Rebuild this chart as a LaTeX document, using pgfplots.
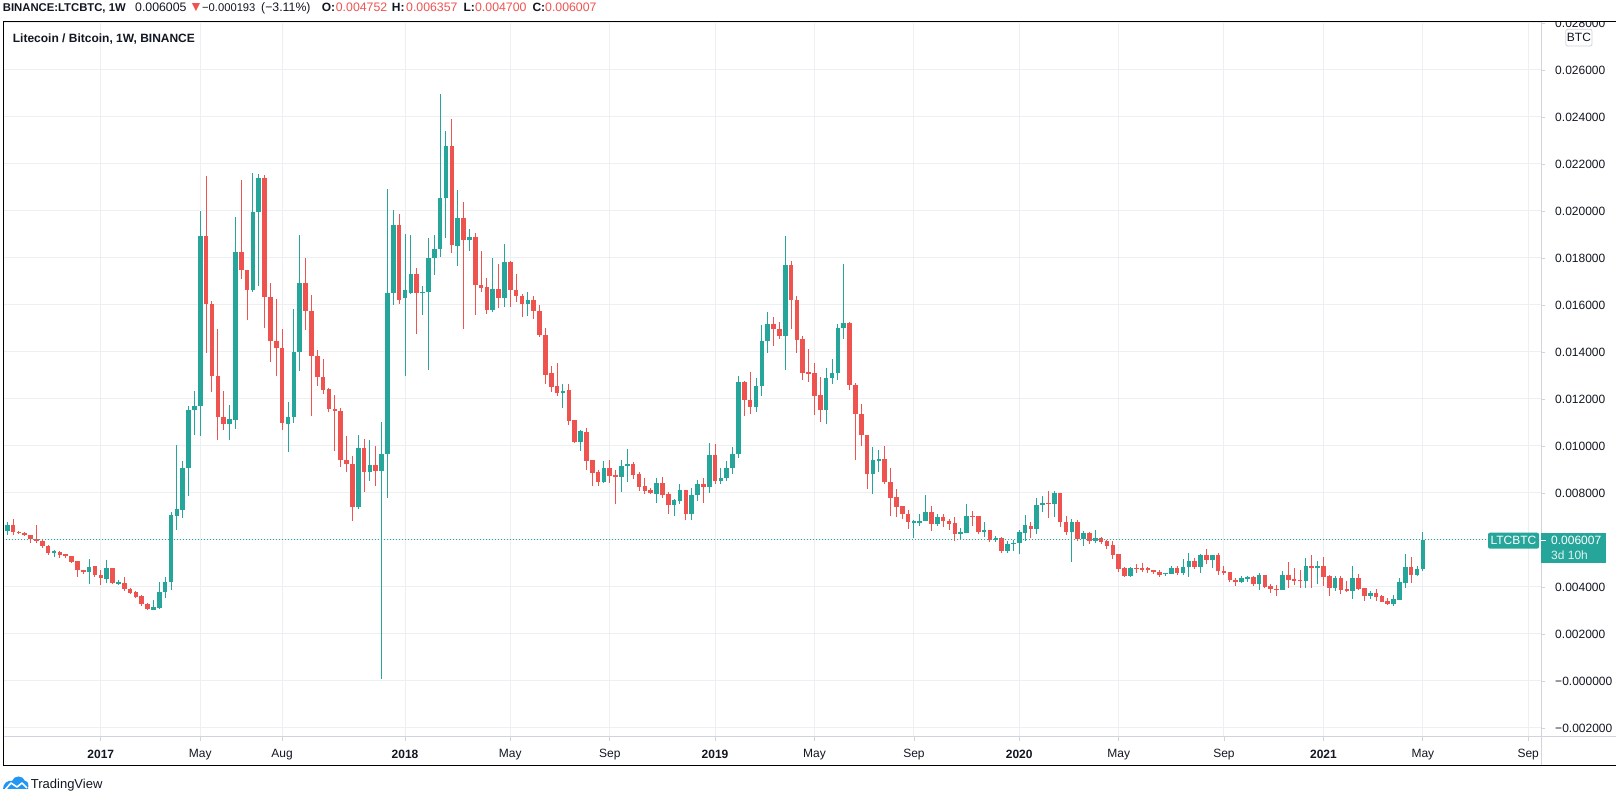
\documentclass[border=0pt]{standalone}
\usepackage{pgfplots}
\pgfplotsset{compat=1.18}
\usepackage{pgfplotstable}
\usepackage{fontspec}
\setmainfont{Liberation Sans}
\definecolor{tvgreen}{RGB}{38,166,154}
\definecolor{tvred}{RGB}{239,83,80}
\definecolor{tvgrid}{RGB}{238,239,242}
\definecolor{tvtext}{RGB}{19,23,34}
\definecolor{tvline}{RGB}{209,212,220}
\definecolor{tvblue}{RGB}{33,150,243}
% weekly candles, LTC/BTC, values in units of 0.001 BTC; i = week index (0 = 12 Sep 2016)
\pgfplotstableread{
i o h l c
0 6.37 6.75 6.23 6.65
1 6.65 6.90 6.23 6.33
2 6.36 6.40 6.25 6.30
3 6.31 6.32 6.15 6.21
4 6.22 6.23 5.87 6.04
5 6.06 6.65 5.87 5.95
6 5.97 6.01 5.65 5.73
7 5.76 5.80 5.38 5.45
8 5.45 5.59 5.28 5.52
9 5.50 5.55 5.23 5.35
10 5.40 5.41 5.23 5.32
11 5.33 5.34 5.02 5.05
12 5.09 5.12 4.41 4.71
13 4.74 4.74 4.54 4.62
14 4.62 5.20 4.11 4.85
15 4.88 4.91 4.43 4.50
16 4.53 4.74 4.07 4.37
17 4.36 5.16 4.17 4.82
18 4.82 4.82 4.11 4.16
19 4.17 4.28 4.07 4.21
20 4.18 4.42 3.85 3.91
21 3.93 3.96 3.72 3.74
22 3.77 3.81 3.54 3.57
23 3.60 3.65 3.18 3.28
24 3.29 3.32 3.01 3.06
25 3.04 3.46 3.01 3.16
26 3.12 4.21 3.07 3.80
27 3.77 4.42 3.54 4.21
28 4.20 7.21 3.86 7.08
29 7.04 10.06 6.44 7.32
30 7.29 9.35 6.92 9.08
31 9.05 11.72 7.89 11.55
32 11.52 12.35 10.48 11.72
33 11.69 19.99 10.41 18.92
34 18.92 21.47 13.96 16.03
35 16.06 16.16 12.28 12.96
36 12.99 14.98 10.24 11.23
37 11.23 12.35 10.67 10.92
38 10.92 11.76 10.24 11.15
39 11.12 19.76 10.74 18.27
40 18.27 21.33 17.12 17.48
41 17.50 17.50 15.38 16.62
42 16.62 21.62 16.54 19.97
43 19.94 21.59 16.79 21.42
44 21.42 21.55 15.02 16.33
45 16.35 16.95 13.56 14.45
46 14.48 16.24 12.99 14.16
47 14.18 14.98 10.70 10.96
48 10.92 11.89 9.73 11.25
49 11.22 15.84 10.98 14.00
50 13.99 18.99 13.18 16.95
51 16.95 18.01 14.95 15.73
52 15.76 16.43 11.26 13.82
53 13.84 14.07 12.54 12.92
54 12.95 13.72 12.20 12.40
55 12.43 12.47 11.45 11.56
56 11.59 12.18 9.77 11.48
57 11.50 11.62 9.09 9.39
58 9.42 10.44 8.88 9.23
59 9.23 9.59 6.79 7.39
60 7.39 10.48 7.32 9.91
61 9.91 10.30 8.03 8.88
62 8.88 10.27 8.50 9.21
63 9.21 10.01 8.28 8.92
64 8.92 11.01 0.10 9.67
65 9.64 20.94 7.79 16.51
66 16.51 20.04 16.00 19.40
67 19.40 19.88 16.05 16.20
68 16.28 19.04 12.96 16.65
69 16.51 18.99 16.48 17.33
70 17.33 17.57 14.78 16.50
71 16.50 16.82 15.59 16.57
72 16.54 18.87 13.22 18.01
73 17.99 18.99 17.26 18.40
74 18.37 24.99 18.03 20.57
75 20.54 23.42 18.84 22.78
76 22.78 23.93 18.23 18.54
77 18.50 20.91 17.65 19.72
78 19.72 20.40 14.98 18.75
79 18.75 19.25 18.31 18.91
80 18.91 19.06 15.59 16.84
81 16.87 18.31 16.57 16.74
82 16.78 17.16 15.63 15.80
83 15.80 18.01 15.69 16.70
84 16.70 17.76 15.86 16.28
85 16.28 18.61 15.93 17.84
86 17.84 17.89 15.93 16.62
87 16.65 17.33 16.11 16.37
88 16.40 16.45 15.48 16.03
89 16.03 16.54 15.52 16.23
90 16.23 16.40 15.40 15.73
91 15.76 16.01 14.65 14.71
92 14.72 15.01 12.64 13.04
93 13.11 13.40 12.31 12.52
94 12.55 13.53 12.13 12.24
95 12.24 12.64 11.63 12.34
96 12.38 12.64 10.89 11.08
97 11.11 11.11 10.13 10.17
98 10.17 10.68 9.79 10.64
99 10.60 10.77 8.98 9.36
100 9.40 9.40 8.30 8.87
101 8.89 8.98 8.30 8.47
102 8.47 9.36 8.44 9.06
103 9.06 9.40 8.44 8.72
104 8.77 8.98 7.53 8.68
105 8.68 9.40 8.04 9.15
106 9.14 9.87 8.47 9.25
107 9.25 9.32 8.60 8.78
108 8.82 8.91 8.09 8.26
109 8.30 8.64 7.96 8.09
110 8.13 8.21 7.96 8.00
111 7.97 8.64 7.57 8.43
112 8.43 8.68 7.79 7.93
113 7.96 8.04 7.11 7.50
114 7.50 7.74 7.03 7.70
115 7.67 8.38 7.53 8.13
116 8.13 8.13 6.87 7.12
117 7.12 8.21 6.87 7.93
118 7.90 8.57 7.65 8.40
119 8.40 8.65 7.56 8.24
120 8.24 10.13 8.00 9.63
121 9.63 10.10 8.40 8.50
122 8.50 9.08 8.37 8.65
123 8.62 9.38 8.50 9.08
124 9.05 9.97 8.79 9.67
125 9.65 12.99 9.50 12.74
126 12.74 12.78 11.26 11.94
127 11.97 13.16 11.35 11.65
128 11.65 12.91 11.46 12.57
129 12.54 15.16 12.11 14.48
130 14.45 15.72 13.94 15.21
131 15.21 15.50 14.27 14.96
132 14.99 15.29 14.57 14.70
133 14.70 18.95 13.25 17.72
134 17.72 17.89 14.99 16.20
135 16.23 16.40 13.97 14.52
136 14.57 14.70 12.82 13.12
137 13.16 14.14 12.74 13.08
138 13.12 13.55 11.33 12.14
139 12.18 12.95 11.04 11.55
140 11.55 13.33 10.95 12.91
141 12.88 13.72 12.65 13.12
142 13.09 15.21 12.79 15.04
143 15.01 17.76 14.54 15.25
144 15.25 15.29 12.37 12.58
145 12.61 12.68 9.39 11.35
146 11.38 11.80 9.99 10.45
147 10.48 10.48 8.16 8.79
148 8.79 9.97 7.94 9.42
149 9.39 9.84 8.88 9.46
150 9.46 10.01 8.37 8.45
151 8.48 9.08 7.01 7.77
152 7.82 8.16 6.96 7.39
153 7.43 7.43 6.88 7.09
154 7.12 7.26 6.45 6.75
155 6.74 6.86 6.07 6.79
156 6.74 7.12 6.58 6.82
157 6.79 7.90 6.79 7.21
158 7.21 7.43 6.37 6.67
159 6.67 7.12 6.58 6.96
160 6.96 7.12 6.54 6.79
161 6.82 6.88 6.41 6.67
162 6.71 6.96 5.96 6.24
163 6.24 6.52 6.01 6.35
164 6.28 7.55 6.28 7.04
165 7.04 7.22 6.58 6.96
166 7.00 7.00 6.24 6.33
167 6.33 6.78 6.14 6.44
168 6.44 6.44 5.93 6.01
169 6.00 6.17 5.93 6.09
170 6.09 6.14 5.46 5.55
171 5.55 5.97 5.46 5.84
172 5.82 6.01 5.55 5.89
173 5.86 6.44 5.42 6.33
174 6.28 7.08 5.97 6.65
175 6.61 6.78 6.10 6.48
176 6.48 7.80 6.27 7.50
177 7.48 7.89 7.21 7.59
178 7.59 8.10 6.95 7.52
179 7.52 8.10 6.99 8.01
180 8.01 8.01 6.57 6.75
181 6.78 7.04 6.23 6.33
182 6.33 6.91 5.08 6.78
183 6.78 6.87 5.97 6.06
184 6.06 6.37 5.76 6.31
185 6.31 6.35 5.82 5.94
186 5.94 6.44 5.89 6.09
187 6.09 6.14 5.82 5.90
188 5.94 6.01 5.63 5.76
189 5.80 5.97 5.21 5.38
190 5.42 5.42 4.65 4.78
191 4.82 4.87 4.44 4.48
192 4.48 4.87 4.44 4.82
193 4.82 4.99 4.61 4.78
194 4.82 5.01 4.65 4.75
195 4.79 4.87 4.58 4.71
196 4.74 4.74 4.55 4.62
197 4.65 4.74 4.41 4.50
198 4.54 4.61 4.45 4.61
199 4.57 4.91 4.54 4.82
200 4.82 4.91 4.50 4.61
201 4.61 5.21 4.50 4.87
202 4.84 5.46 4.44 5.12
203 5.12 5.25 4.75 4.84
204 4.84 5.42 4.58 5.38
205 5.38 5.63 4.99 5.16
206 5.16 5.38 4.79 5.38
207 5.38 5.46 4.50 4.67
208 4.70 4.91 4.52 4.61
209 4.65 4.65 4.20 4.28
210 4.31 4.40 4.03 4.23
211 4.23 4.48 4.16 4.40
212 4.35 4.48 4.23 4.44
213 4.44 4.48 4.03 4.11
214 4.11 4.61 3.86 4.52
215 4.52 4.52 3.94 3.99
216 4.06 4.14 3.73 3.90
217 3.93 4.10 3.60 3.89
218 3.89 4.70 3.89 4.52
219 4.52 5.08 3.94 4.31
220 4.35 4.82 4.10 4.28
221 4.31 4.74 3.94 4.28
222 4.27 5.22 3.97 4.89
223 4.89 5.36 3.97 4.82
224 4.82 5.12 4.11 4.89
225 4.89 5.28 4.04 4.44
226 4.47 4.51 3.62 3.97
227 3.97 4.47 3.83 4.37
228 4.37 4.47 3.70 3.87
229 3.91 4.27 3.80 3.86
230 3.84 4.89 3.49 4.37
231 4.37 4.55 3.87 3.90
232 3.97 3.97 3.42 3.63
233 3.63 3.83 3.48 3.74
234 3.74 3.91 3.42 3.56
235 3.62 3.66 3.36 3.38
236 3.39 3.52 3.23 3.26
237 3.26 3.66 3.21 3.49
238 3.45 4.37 3.45 4.21
239 4.18 5.40 3.97 4.85
240 4.85 5.28 4.16 4.51
241 4.51 4.89 4.47 4.75
242 4.752 6.357 4.700 6.007
}\candles

\begin{document}
\begin{tikzpicture}[x=1pt,y=1pt]
\useasboundingbox (0,0) rectangle (1616,799);
\fill[white] (0,0) rectangle (1616,799);
\begin{axis}[
  at={(3.3pt,62pt)}, anchor=south west,
  scale only axis, width=1537.7pt, height=715.3pt,
  xmin=-0.67, xmax=262.2, ymin=-2.383, ymax=28.055,
  axis line style={draw=none},
  unbounded coords=discard,
  grid=major,
  major grid style={draw=tvgrid, line width=1pt},
  tick align=outside,
  major tick length=4pt,
  tick style={draw=tvline, line width=0.8pt},
  xtick pos=bottom,
  ytick pos=right, yticklabel pos=right,
  xtick={16,33,47,68,86,103,121,138,155,173,190,208,225,242,260},
  xticklabels={\textbf{2017},May,Aug,\textbf{2018},May,Sep,\textbf{2019},May,Sep,\textbf{2020},May,Sep,\textbf{2021},May,Sep},
  ytick={-2,0,2,4,6,8,10,12,14,16,18,20,22,24,26,28},
  yticklabels={−0.002000,−0.000000,0.002000,0.004000,{},0.008000,0.010000,0.012000,0.014000,0.016000,0.018000,0.020000,0.022000,0.024000,0.026000,0.028000},
  xticklabel style={font=\fontsize{12pt}{14pt}\selectfont, text=tvtext, anchor=center, yshift=-13.7pt},
  yticklabel style={font=\fontsize{12pt}{14pt}\selectfont, text=tvtext, anchor=west, inner sep=0pt, xshift=10pt},
  candle/.style={draw=none, mark=none, error bars/y dir=both, error bars/y explicit, error bars/error mark=none},
]
% wicks
\addplot[candle, error bars/error bar style={draw=tvgreen, line width=1pt}]
  table[x=i, y expr={\thisrow{c}>=\thisrow{o} ? (\thisrow{h}+\thisrow{l})/2 : nan},
        y error expr={(\thisrow{h}-\thisrow{l})/2}] {\candles};
\addplot[candle, error bars/error bar style={draw=tvred, line width=1pt}]
  table[x=i, y expr={\thisrow{c}<\thisrow{o} ? (\thisrow{h}+\thisrow{l})/2 : nan},
        y error expr={(\thisrow{h}-\thisrow{l})/2}] {\candles};
% bodies
\addplot[candle, error bars/error bar style={draw=tvgreen, line width=4.6pt}]
  table[x=i, y expr={\thisrow{c}>=\thisrow{o} ? (\thisrow{o}+\thisrow{c})/2 : nan},
        y error expr={max(abs(\thisrow{c}-\thisrow{o})/2,0.022)}] {\candles};
\addplot[candle, error bars/error bar style={draw=tvred, line width=4.6pt}]
  table[x=i, y expr={\thisrow{c}<\thisrow{o} ? (\thisrow{o}+\thisrow{c})/2 : nan},
        y error expr={max(abs(\thisrow{c}-\thisrow{o})/2,0.022)}] {\candles};
% last price line
\addplot[tvgreen, line width=1pt, dash pattern=on 1pt off 2pt] coordinates {(-0.67,6.007) (253.1,6.007)};
\end{axis}
% frame
\fill[white] (1542,777.3) rectangle (1616,799);
\draw[tvline, line width=1pt] (1541,777.3) -- (1541,34);
\draw[tvline, line width=1pt] (3.3,62) -- (1616,62);
\draw[black, line width=0.9pt] (3.3,777.3) -- (1616,777.3);
\draw[black, line width=0.9pt] (3.3,777.3) -- (3.3,34) -- (1616,34);
% header
\begin{scope}[every node/.style={anchor=base west, inner sep=0pt, text=tvtext, font=\fontsize{12.3pt}{14pt}\selectfont}]
\node[font=\fontsize{11.3pt}{14pt}\selectfont\bfseries] at (2.7,787) {BINANCE:LTCBTC, 1W};
\node at (135,787) {0.006005};
\node[text=tvred, font=\fontsize{14pt}{16pt}\selectfont] at (189,787.5) {▼};
\node[font=\fontsize{11.2pt}{14pt}\selectfont] at (202,787) {−0.000193};
\node at (261,787) {(−3.11\%)};
\node[font=\fontsize{12pt}{14pt}\selectfont\bfseries] at (321.7,787) {O:};
\node[text=tvred] at (335.7,787) {0.004752};
\node[font=\fontsize{12pt}{14pt}\selectfont\bfseries] at (391.7,787) {H:};
\node[text=tvred] at (406,787) {0.006357};
\node[font=\fontsize{12pt}{14pt}\selectfont\bfseries] at (463.3,787) {L:};
\node[text=tvred] at (475,787) {0.004700};
\node[font=\fontsize{12pt}{14pt}\selectfont\bfseries] at (532.3,787) {C:};
\node[text=tvred] at (545,787) {0.006007};
\node[font=\fontsize{12pt}{14pt}\selectfont\bfseries] at (12.7,756.4) {Litecoin / Bitcoin, 1W, BINANCE};
\end{scope}
% BTC unit box
\draw[tvline, fill=white, rounded corners=2pt, line width=0.8pt] (1565.7,753) rectangle (1592,769.7);
\node[text=tvtext, font=\fontsize{12pt}{14pt}\selectfont, inner sep=0pt] at (1578.9,761.3) {BTC};
% last price labels
\fill[tvgreen, rounded corners=2pt] (1488,250.3) rectangle (1539,266.3);
\node[text=white, font=\fontsize{12pt}{14pt}\selectfont, inner sep=0pt] at (1513.5,258.3) {LTCBTC};
\fill[tvgreen] (1541,236.3) rectangle (1606,266.3);
\draw[white, line width=0.8pt] (1541,258.7) -- (1545.5,258.7);
\node[anchor=west, text=white, font=\fontsize{12pt}{14pt}\selectfont, inner sep=0pt] at (1551,258.7) {0.006007};
\node[anchor=west, text=white!85!tvgreen, font=\fontsize{12pt}{14pt}\selectfont, inner sep=0pt] at (1551,244.2) {3d 10h};
% TradingView logo
\begin{scope}[shift={(3,7)}]
\fill[tvblue] (0,3) .. controls (0,9) and (5,12) .. (9,11) .. controls (11,17) and (20,17) .. (22,11) .. controls (25,11) and (26,8) .. (25,3) -- cycle;
\draw[white, line width=1.6pt, line join=round] (2,2) -- (8,9) -- (14,5) -- (19,9) -- (24,4);
\end{scope}
\node[anchor=west, inner sep=0pt, text=tvtext, font=\fontsize{13pt}{15pt}\selectfont] at (30.7,14) {TradingView};
\end{tikzpicture}
\end{document}
